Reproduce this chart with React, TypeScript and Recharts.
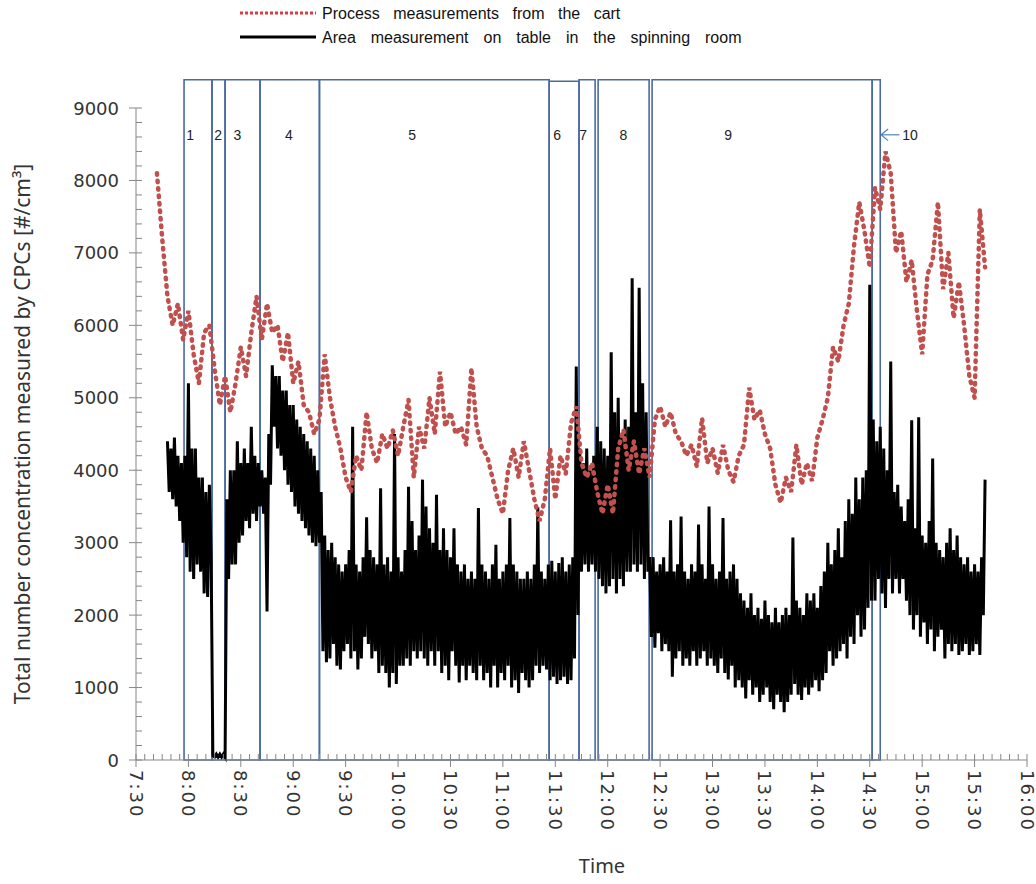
import React from "react";
import { LineChart, Line, XAxis, YAxis, ReferenceArea, ReferenceDot, ReferenceLine } from "recharts";

// time is kept as minutes after 7:30
// the area measurement flickers fast: one reading per minute, read as high / low pairs
const blackStart = 18;
const blackStep = 1;
const blackValues = [
  4400, 3700, 4300, 3600, 4450, 3500, 4200, 3300, 4100, 3000,
  4200, 2800, 5200, 2600, 4300, 2500, 4300, 2700, 3900, 2600,
  3900, 2300, 3700, 2250, 3800, 2800, 60, 40, 80, 40,
  80, 40, 80, 40, 3600, 2500, 4000, 2700, 4000, 2700,
  4400, 3000, 4100, 3100, 4300, 3300, 4100, 3200, 4600, 3400,
  4200, 3300, 4100, 3500, 4000, 3400, 3900, 2050, 4500, 3800,
  5450, 4600, 5300, 4300, 5300, 4200, 5100, 4000, 5100, 3800,
  4900, 3700, 4900, 3500, 4700, 3400, 4600, 3300, 4500, 3200,
  4400, 3100, 4300, 3000, 4200, 2950, 4000, 3000, 3700, 1500,
  3100, 1350, 2900, 1400, 3000, 1600, 2800, 1300, 2700, 1250,
  2600, 1500, 2700, 1600, 2900, 1400, 4600, 1500, 2700, 1250,
  2600, 1400, 2800, 1700, 3350, 1600, 2900, 1400, 2800, 1500,
  2700, 1200, 3750, 1300, 2700, 1200, 2800, 1000, 2600, 1200,
  4500, 1050, 2800, 1300, 2600, 1300, 2900, 1400, 3770, 1300,
  3300, 1500, 2900, 1400, 3100, 1500, 3870, 1400, 3500, 1300,
  3200, 1500, 3000, 1300, 3660, 1500, 2900, 1200, 3200, 1300,
  2900, 1100, 2800, 1500, 3200, 1300, 2700, 1070, 2600, 1300,
  2700, 1100, 2500, 1300, 2600, 1200, 2500, 1100, 3480, 1300,
  2700, 1100, 2600, 1200, 2500, 1000, 2700, 1300, 2970, 1000,
  2500, 1200, 2600, 1100, 2700, 1300, 3340, 1000, 2700, 1100,
  2600, 925, 2500, 1200, 2500, 1100, 2600, 1000, 2500, 1100,
  2700, 1300, 3490, 1200, 2600, 1300, 2500, 1250, 2700, 1100,
  2750, 1150, 2600, 1050, 2720, 1100, 2800, 1150, 2600, 1050,
  2700, 1100, 2800, 1400, 5430, 2000, 4300, 2600, 4100, 2700,
  4300, 2600, 4000, 2700, 4200, 2600, 4600, 2500, 4400, 2400,
  4300, 2300, 4200, 2400, 5630, 2500, 4800, 2300, 5000, 2500,
  4500, 2400, 4700, 2600, 4600, 2600, 6650, 2700, 4800, 2600,
  6520, 2700, 5200, 2500, 4800, 2600, 2800, 1700, 2800, 1550,
  2600, 1750, 2700, 1500, 2800, 1600, 2600, 1500, 3310, 1150,
  2600, 1400, 2700, 1500, 3360, 1300, 2600, 1400, 2500, 1300,
  2700, 1500, 2600, 1300, 3250, 1400, 2700, 1500, 2500, 1300,
  3500, 1400, 2700, 1300, 2500, 1200, 2600, 1400, 3340, 1200,
  2500, 1110, 2600, 1300, 2700, 1000, 2500, 1100, 2300, 1000,
  2200, 850, 2100, 1100, 2300, 900, 2000, 1000, 2100, 800,
  1950, 900, 2200, 1000, 2000, 800, 1900, 700, 2100, 900,
  1900, 800, 2000, 660, 2100, 800, 2000, 900, 3070, 1050,
  2200, 900, 2100, 830, 2000, 1000, 2300, 900, 2200, 1000,
  2300, 1100, 2100, 950, 2400, 1100, 2600, 1200, 3000, 1500,
  2700, 1300, 2900, 1400, 3200, 1500, 2800, 1600, 3300, 1400,
  3600, 1700, 3400, 1600, 3900, 2000, 3600, 1700, 3900, 1800,
  4000, 2100, 6560, 2200, 4700, 2200, 4400, 2500, 4600, 2300,
  4300, 2100, 4000, 2500, 5500, 2300, 3700, 2500, 3800, 2300,
  3500, 2500, 3300, 2200, 3600, 2000, 4690, 1800, 3200, 2000,
  4730, 1700, 3100, 1900, 3000, 1600, 3300, 1800, 4160, 1500,
  3000, 1700, 2900, 1800, 2800, 1400, 3000, 1600, 3200, 1500,
  2900, 1600, 3100, 1450, 2800, 1500, 2700, 1600, 2800, 1450,
  2600, 1500, 2700, 1600, 2600, 1450, 2800, 2000, 3870,
];

const redStart = 12;
const redStep = 3;
const redValues = [
  8100, 7200, 6400, 6000, 6300, 5800, 6200, 5600, 5200, 5900,
  6000, 5400, 4900, 5300, 4800, 5200, 5700, 5300, 5900, 6400,
  5800, 6300, 5900, 6000, 5500, 5900, 5200, 5500, 4900, 4800,
  4500, 4700, 5600, 5000, 4600, 4300, 3900, 3700, 4200, 4000,
  4800, 4300, 4100, 4500, 4300, 4550, 4200, 4600, 4970, 3900,
  4600, 4300, 5000, 4500, 5360, 4600, 4800, 4500, 4600, 4350,
  5410, 4600, 4300, 4200, 3900, 3600, 3400, 4000, 4300, 3900,
  4400, 4000, 3600, 3300, 3600, 4300, 3600, 4200, 3950, 4650,
  4880, 4100, 3900, 4100, 3700, 3400, 3800, 3400, 4300, 4560,
  4000, 4400, 3950, 4300, 3900, 4700, 4880, 4600, 4800, 4500,
  4400, 4200, 4350, 4050, 4720, 4100, 4300, 3960, 4350, 4000,
  3840, 4200, 4350, 5140, 4700, 4830, 4500, 4300, 3800, 3550,
  3900, 3700, 4350, 3800, 4100, 3850, 4450, 4700, 5000, 5700,
  5500, 6000, 6300, 7100, 7700, 7300, 6800, 7900, 7600, 8400,
  8100, 7000, 7300, 6600, 6900, 6200, 5600, 6700, 6900, 7700,
  6500, 7000, 6100, 6600, 6000, 5300, 5000, 7600, 6800,
];

const timeLabels = [
  "7:30", "8:00", "8:30", "9:00", "9:30", "10:00", "10:30", "11:00", "11:30",
  "12:00", "12:30", "13:00", "13:30", "14:00", "14:30", "15:00", "15:30", "16:00",
];

const regionNames = ["1", "2", "3", "4", "5", "6", "7", "8", "9", "10"];
const regionFrom = [27.5, 43.5, 51, 71, 105, 236.5, 253.6, 264.5, 295.4, 421.4];
const regionTo = [43.5, 51, 71, 105, 236.5, 253.6, 262.8, 293.7, 421.4, 426];
const regionTop = [9390, 9390, 9390, 9390, 9390, 9370, 9390, 9390, 9390, 9390];
const regionLabelAt = [31, 47, 58, 87.5, 158, 241, 256, 279, 339, 443];

const yTicks = Array.from({ length: 46 }, (_, i) => i * 200);
const xTicks = Array.from({ length: 103 }, (_, i) => i * 5);

const blackData = blackValues.map((v, i) => ({ t: blackStart + i * blackStep, v }));
const redData = redValues.map((v, i) => ({ t: redStart + i * redStep, v }));

const AXIS = "#868686";
const BOX = "#4a6aa1";
const LABEL_Y = 8630;

function YTick({ x, y, payload }: any) {
  const major = payload.value % 1000 === 0;
  return (
    <g>
      <line x1={major ? x - 7 : x} x2={x + 6} y1={y} y2={y} stroke={AXIS} />
      {major && (
        <text x={x - 17} y={y} textAnchor="end" dominantBaseline="central" fontSize={18} fill="#333" fontFamily="DejaVu Sans">
          {payload.value}
        </text>
      )}
    </g>
  );
}

function XTick({ x, y, payload }: any) {
  const v = payload.value;
  const major = v % 30 === 0;
  return (
    <g>
      <line x1={x} x2={x} y1={y - 6} y2={major ? y + 7 : y} stroke={AXIS} />
      {major && (
        <text
          transform={`translate(${x},${y + 10}) rotate(90)`}
          textAnchor="start"
          dominantBaseline="central"
          fontSize={18}
          letterSpacing={2}
          fill="#333"
          fontFamily="DejaVu Sans"
        >
          {timeLabels[v / 30]}
        </text>
      )}
    </g>
  );
}

export default function App() {
  return (
    <div style={{ position: "absolute", left: 0, top: 0, width: 1036, height: 884, background: "#fff" }}>
      <LineChart width={1036} height={884} margin={{ top: 108, right: 9, bottom: 0, left: 0 }}>
        <XAxis
          type="number"
          dataKey="t"
          domain={[0, 510]}
          ticks={xTicks}
          interval={0}
          tick={<XTick />}
          tickSize={0}
          tickMargin={0}
          tickLine={false}
          axisLine={{ stroke: AXIS }}
          height={124}
        />
        <YAxis
          type="number"
          domain={[0, 9000]}
          ticks={yTicks}
          interval={0}
          tick={<YTick />}
          tickSize={0}
          tickMargin={0}
          tickLine={false}
          axisLine={{ stroke: AXIS }}
          width={136}
        />
        <Line
          data={blackData}
          dataKey="v"
          type="linear"
          stroke="#000"
          strokeWidth={3}
          dot={false}
          isAnimationActive={false}
        />
        <Line
          data={redData}
          dataKey="v"
          type="linear"
          stroke="#c0504d"
          strokeWidth={4.5}
          strokeDasharray="1.5 6"
          strokeLinecap="round"
          dot={false}
          isAnimationActive={false}
        />
        {regionNames.map((n, i) => (
          <ReferenceArea
            key={"box" + n}
            x1={regionFrom[i]}
            x2={regionTo[i]}
            y1={0}
            y2={regionTop[i]}
            fill="none"
            fillOpacity={0}
            stroke={BOX}
            strokeWidth={1.6}
            ifOverflow="visible"
          />
        ))}
        {regionNames.map((n, i) => (
          <ReferenceDot
            key={"lab" + n}
            x={regionLabelAt[i]}
            y={LABEL_Y}
            r={0}
            fill="none"
            stroke="none"
            label={{ value: n, position: "center", fill: "#222", fontSize: 14, fontFamily: "Liberation Sans" }}
          />
        ))}
        <ReferenceLine segment={[{ x: 426.5, y: LABEL_Y }, { x: 437, y: LABEL_Y }]} stroke="#4f81bd" strokeWidth={1.2} />
        <ReferenceLine segment={[{ x: 426.5, y: LABEL_Y }, { x: 430.5, y: LABEL_Y + 80 }]} stroke="#4f81bd" strokeWidth={1.2} />
        <ReferenceLine segment={[{ x: 426.5, y: LABEL_Y }, { x: 430.5, y: LABEL_Y - 80 }]} stroke="#4f81bd" strokeWidth={1.2} />
      </LineChart>
      <svg width={1036} height={884} style={{ position: "absolute", left: 0, top: 0, pointerEvents: "none" }}>
        <line x1={240} x2={316} y1={13} y2={13} stroke="#e0393e" strokeWidth={3} strokeDasharray="3 2" />
        <text x={322} y={13} dominantBaseline="central" fontSize={16} wordSpacing={9} fill="#111" fontFamily="Liberation Sans">
          Process measurements from the cart
        </text>
        <line x1={240} x2={316} y1={37} y2={37} stroke="#000" strokeWidth={3} />
        <text x={322} y={37} dominantBaseline="central" fontSize={16} wordSpacing={10.5} fill="#111" fontFamily="Liberation Sans">
          Area measurement on table in the spinning room
        </text>
        <text
          x={22}
          y={434}
          transform="rotate(-90, 22, 434)"
          textAnchor="middle"
          dominantBaseline="central"
          fontSize={21}
          fill="#333"
          fontFamily="Noto Sans"
        >
          Total number concentration measured by CPCs [#/cm³]
        </text>
        <text x={602} y={865} textAnchor="middle" dominantBaseline="central" fontSize={20} fill="#333" fontFamily="Noto Sans">
          Time
        </text>
      </svg>
    </div>
  );
}
